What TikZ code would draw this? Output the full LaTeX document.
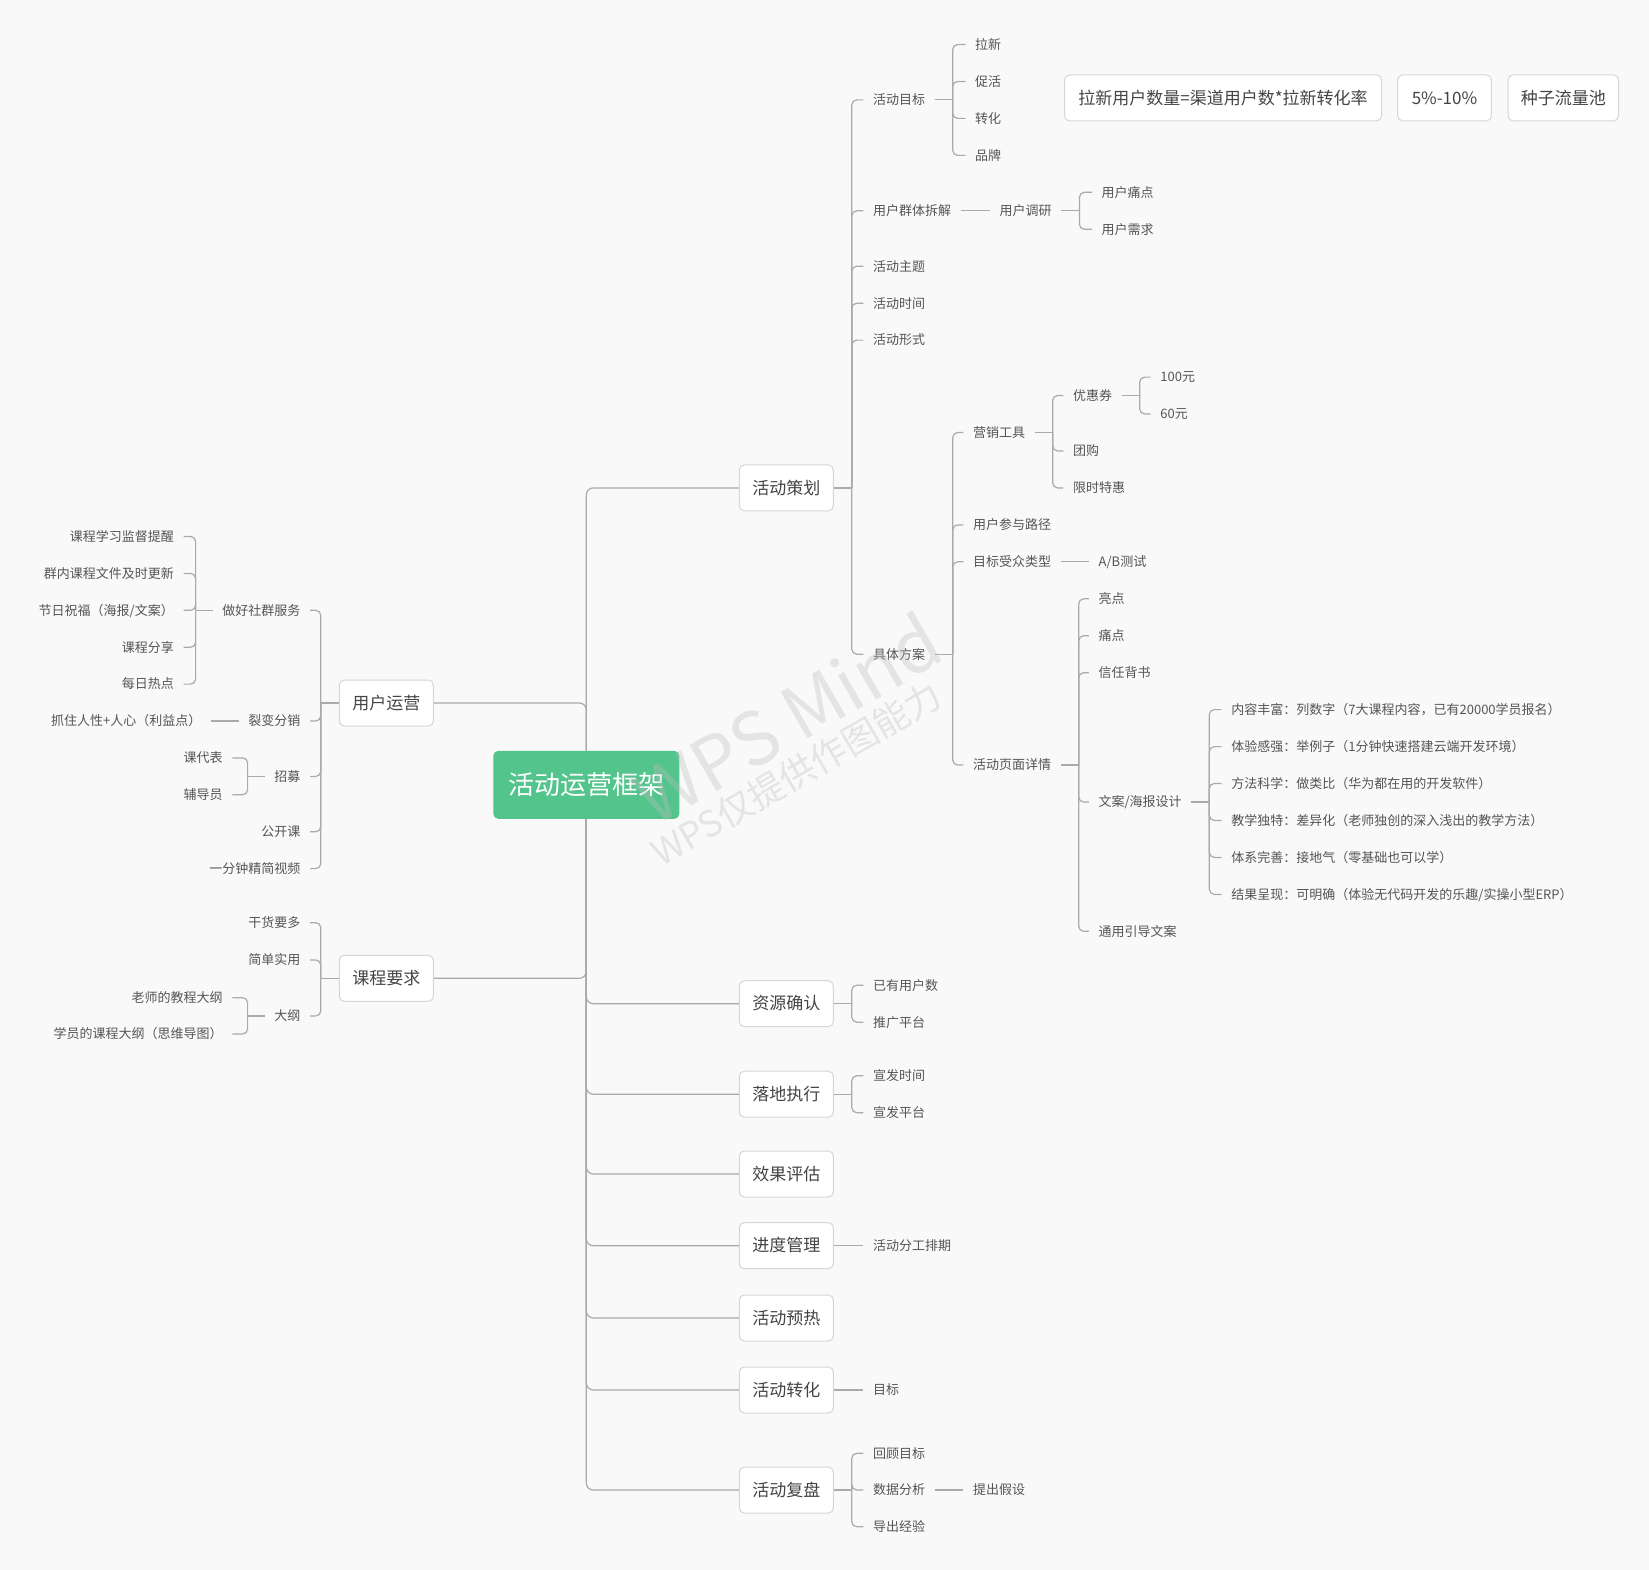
\documentclass[tikz,border=0pt]{standalone}
\usepackage{fontspec}
\setmainfont{Noto Sans CJK SC}
\usetikzlibrary{positioning}
\definecolor{bgcol}{RGB}{249,249,249}
\definecolor{linecol}{RGB}{170,170,170}
\definecolor{txtcol}{RGB}{85,85,85}
\definecolor{txtdark}{RGB}{68,68,68}
\definecolor{boxline}{RGB}{214,214,214}
\definecolor{rootgreen}{RGB}{82,196,140}
\definecolor{wmgray}{RGB}{190,190,190}

\begin{document}
\begin{tikzpicture}[x=1pt, y=-1pt,
    leaf/.style={font=\fontsize{13}{16}\selectfont, text=txtcol, inner xsep=9.5pt, inner ysep=3pt,
      text height=11pt, text depth=1.3pt},
    topic/.style={draw=boxline, fill=white, line width=1pt, rounded corners=5pt, minimum width=94pt,
      minimum height=46pt, inner xsep=8pt, inner ysep=0pt, font=\fontsize{17}{20}\selectfont,
      text=txtdark, text height=14pt, text depth=1.6pt},
    link/.style={draw=linecol, line width=1.2pt, rounded corners=5pt},
    wmtext/.style={text=wmgray, opacity=0.35, rotate=30}]

  % Canvas
  \fill[bgcol] (0,0) rectangle (1649,1570);
  \useasboundingbox (0,0) rectangle (1649,1570);

  % Central topic
  \node[fill=rootgreen, rounded corners=5pt, minimum width=186pt, minimum height=68pt, inner sep=0pt,
    text=white, font=\fontsize{26}{30}\selectfont, text height=21.5pt, text depth=2pt]
    (root) at (586.3,784.8) {活动运营框架};

  % Main branches
  \node[topic] (plan) at (786.3,487.9) {活动策划};
  \node[topic] (res) at (786.3,1003.7) {资源确认};
  \node[topic] (exec) at (786.3,1094.2) {落地执行};
  \node[topic] (eval) at (786.3,1174) {效果评估};
  \node[topic] (prog) at (786.3,1245.7) {进度管理};
  \node[topic] (warm) at (786.3,1318) {活动预热};
  \node[topic] (conv) at (786.3,1390) {活动转化};
  \node[topic] (review) at (786.3,1490) {活动复盘};
  \node[topic] (userops) at (386.3,703) {用户运营};
  \node[topic] (course) at (386.3,978.3) {课程要求};

  % Floating boxes
  \node[topic, minimum width=317pt] (formula) at (1223,97.9) {拉新用户数量=渠道用户数*拉新转化率};
  \node[topic, minimum width=93.6pt] (rate) at (1444.5,97.9) {5\%-10\%};
  \node[topic, minimum width=110.4pt] (pool) at (1563.3,97.9) {种子流量池};

  % Root to branches
  \draw[link, rounded corners=7pt] (root.north) |- (plan.west);
  \draw[link, rounded corners=7pt] (root.north) |- (userops.east);
  \draw[link, rounded corners=7pt] (root.south) |- (course.east);
  \foreach \b in {res,exec,eval,prog,warm,conv,review}
    \draw[link, rounded corners=7pt] (root.south) |- (\b.west);

  % 活动策划
  \foreach \n/\t/\y in {goal/活动目标/99.9, split/用户群体拆解/210.8, theme/活动主题/266.2,
      time/活动时间/303.2, form/活动形式/340.1, scheme/具体方案/654.2}
    \node[leaf, anchor=west] (\n) at (863.3,\y) {\t};
  \draw[link] (plan.east) -- ++(18,0) coordinate (plan-j);
  \foreach \c in {goal,split,theme,time,form,scheme}
    \draw[link] (plan-j) |- (\c.west);

  % 活动目标
  \foreach \n/\t/\y in {g1/拉新/44.5, g2/促活/81.5, g3/转化/118.4, g4/品牌/155.4}
    \node[leaf, anchor=west] (\n) at (965.5,\y) {\t};
  \draw[link] (goal.east) -- ++(18,0) coordinate (goal-j);
  \foreach \c in {g1,g2,g3,g4}
    \draw[link] (goal-j) |- (\c.west);

  % 用户群体拆解
  \node[leaf, anchor=west] (survey) at (990,210.8) {用户调研};
  \draw[link] (split.east) -- (survey.west);
  \foreach \n/\t/\y in {sv1/用户痛点/192.3, sv2/用户需求/229.3}
    \node[leaf, anchor=west] (\n) at (1092,\y) {\t};
  \draw[link] (survey.east) -- ++(18,0) coordinate (survey-j);
  \foreach \c in {sv1,sv2}
    \draw[link] (survey-j) |- (\c.west);

  % 具体方案
  \foreach \n/\t/\y in {mkt/营销工具/432.5, route/用户参与路径/524.9, aud/目标受众类型/561.8,
      page/活动页面详情/765.05}
    \node[leaf, anchor=west] (\n) at (963.3,\y) {\t};
  \draw[link] (scheme.east) -- ++(18,0) coordinate (scheme-j);
  \foreach \c in {mkt,route,aud,page}
    \draw[link] (scheme-j) |- (\c.west);

  % 营销工具
  \foreach \n/\t/\y in {coupon/优惠券/395.5, group/团购/451, limit/限时特惠/487.9}
    \node[leaf, anchor=west] (\n) at (1063.3,\y) {\t};
  \draw[link] (mkt.east) -- ++(18,0) coordinate (mkt-j);
  \foreach \c in {coupon,group,limit}
    \draw[link] (mkt-j) |- (\c.west);
  \foreach \n/\t/\y in {c1/100元/377.1, c2/60元/414}
    \node[leaf, anchor=west] (\n) at (1150.7,\y) {\t};
  \draw[link] (coupon.east) -- ++(18,0) coordinate (coupon-j);
  \foreach \c in {c1,c2}
    \draw[link] (coupon-j) |- (\c.west);

  \node[leaf, anchor=west] (ab) at (1089,561.8) {A/B测试};
  \draw[link] (aud.east) -- (ab.west);

  % 活动页面详情
  \foreach \n/\t/\y in {p1/亮点/598.8, p2/痛点/635.7, p3/信任背书/672.7, p5/通用引导文案/931.3}
    \node[leaf, anchor=west] (\n) at (1088.8,\y) {\t};
  \node[leaf, anchor=west] (copy) at (1088.8,802) {文案/海报设计};
  \draw[link] (page.east) -- ++(18,0) coordinate (page-j);
  \foreach \c in {p1,p2,p3,copy,p5}
    \draw[link] (page-j) |- (\c.west);

  % 文案/海报设计
  \node[leaf, anchor=west] (k1) at (1221.7,709.6) {内容丰富：列数字（7大课程内容，已有20000学员报名）};
  \node[leaf, anchor=west] (k2) at (1221.7,746.6) {体验感强：举例子（1分钟快速搭建云端开发环境）};
  \node[leaf, anchor=west] (k3) at (1221.7,783.5) {方法科学：做类比（华为都在用的开发软件）};
  \node[leaf, anchor=west] (k4) at (1221.7,820.5) {教学独特：差异化（老师独创的深入浅出的教学方法）};
  \node[leaf, anchor=west] (k5) at (1221.7,857.4) {体系完善：接地气（零基础也可以学）};
  \node[leaf, anchor=west] (k6) at (1221.7,894.4) {结果呈现：可明确（体验无代码开发的乐趣/实操小型ERP）};
  \draw[link] (copy.east) -- ++(18,0) coordinate (copy-j);
  \foreach \c in {k1,k2,k3,k4,k5,k6}
    \draw[link] (copy-j) |- (\c.west);

  % Lower branches
  \foreach \n/\t/\y in {r1/已有用户数/985.2, r2/推广平台/1022.2, e1/宣发时间/1075.7, e2/宣发平台/1112.7,
      pg1/活动分工排期/1245.7, cv1/目标/1390, rv1/回顾目标/1453.3, data/数据分析/1490, rv3/导出经验/1526.7}
    \node[leaf, anchor=west] (\n) at (863.3,\y) {\t};
  \draw[link] (res.east) -- ++(18,0) coordinate (res-j);
  \foreach \c in {r1,r2}
    \draw[link] (res-j) |- (\c.west);
  \draw[link] (exec.east) -- ++(18,0) coordinate (exec-j);
  \foreach \c in {e1,e2}
    \draw[link] (exec-j) |- (\c.west);
  \draw[link] (prog.east) -- (pg1.west);
  \draw[link] (conv.east) -- (cv1.west);
  \draw[link] (review.east) -- ++(18,0) coordinate (review-j);
  \foreach \c in {rv1,data,rv3}
    \draw[link] (review-j) |- (\c.west);
  \node[leaf, anchor=west] (hyp) at (963.3,1490) {提出假设};
  \draw[link] (data.east) -- (hyp.west);

  % 用户运营
  \foreach \n/\t/\y in {service/做好社群服务/610.3, fission/裂变分销/721, recruit/招募/776.4,
      open/公开课/831.7, video/一分钟精简视频/868.6}
    \node[leaf, anchor=east] (\n) at (310,\y) {\t};
  \draw[link] (userops.west) -- ++(-18,0) coordinate (userops-j);
  \foreach \c in {service,fission,recruit,open,video}
    \draw[link] (userops-j) |- (\c.east);

  \foreach \n/\t/\y in {s1/课程学习监督提醒/536.5, s2/群内课程文件及时更新/573.4, s4/课程分享/647.2,
      s5/每日热点/684.1}
    \node[leaf, anchor=east] (\n) at (183.5,\y) {\t};
  \node[leaf, anchor=east] (s3) at (183.5,610.3) {节日祝福（海报/文案）};
  \draw[link] (service.west) -- ++(-17,0) coordinate (service-j);
  \foreach \c in {s1,s2,s3,s4,s5}
    \draw[link] (service-j) |- (\c.east);

  \node[leaf, anchor=east] (hook) at (211,721) {抓住人性+人心（利益点）};
  \draw[link] (fission.west) -- (hook.east);

  \foreach \n/\t/\y in {rc1/课代表/757.9, rc2/辅导员/794.8}
    \node[leaf, anchor=east] (\n) at (232.3,\y) {\t};
  \draw[link] (recruit.west) -- ++(-17,0) coordinate (recruit-j);
  \foreach \c in {rc1,rc2}
    \draw[link] (recruit-j) |- (\c.east);

  % 课程要求
  \foreach \n/\t/\y in {dry/干货要多/922.7, simple/简单实用/960, outline/大纲/1015.9}
    \node[leaf, anchor=east] (\n) at (310,\y) {\t};
  \draw[link] (course.west) -- ++(-18,0) coordinate (course-j);
  \foreach \c in {dry,simple,outline}
    \draw[link] (course-j) |- (\c.east);
  \foreach \n/\t/\y in {o1/老师的教程大纲/997.7, o2/学员的课程大纲（思维导图）/1034}
    \node[leaf, anchor=east] (\n) at (232.3,\y) {\t};
  \draw[link] (outline.west) -- ++(-17,0) coordinate (outline-j);
  \foreach \c in {o1,o2}
    \draw[link] (outline-j) |- (\c.east);

  % Watermark
  \node[wmtext, font=\fontsize{73}{80}\selectfont] (wm1) at (787,718) {WPS Mind};
  \node[wmtext, font=\fontsize{36}{40}\selectfont] (wm2) at (796,774) {WPS仅提供作图能力};
\end{tikzpicture}
\end{document}
